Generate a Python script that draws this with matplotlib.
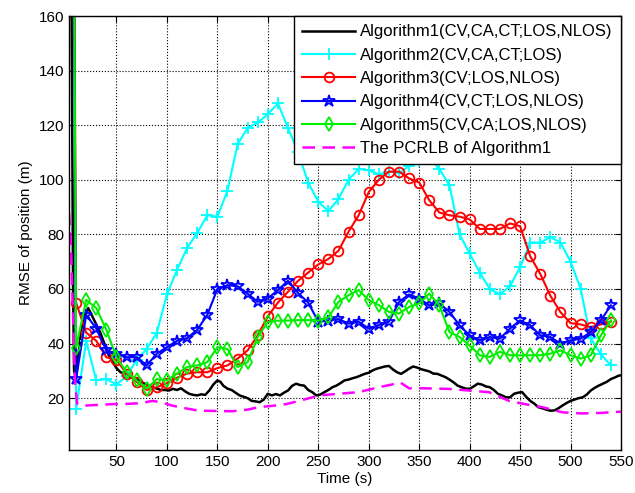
import numpy as np
import matplotlib
matplotlib.use("Agg")
import matplotlib.pyplot as plt

plt.rcParams['font.family'] = ['Liberation Sans', 'DejaVu Sans']

# sample times for the marker curves (first point is the initial transient)
t_mark = [5] + list(range(10, 550, 10))

alg2 = [400, 16, 41, 26.5, 27, 25, 28, 34, 38, 44, 58, 67, 75, 80.5, 87, 86.5, 96, 113, 119, 121, 124,
        128, 119, 110, 99, 92, 88.5, 93, 100, 104, 103.5, 102, 103, 102.5, 105, 107, 108, 104, 98, 80,
        73, 66, 60, 58, 61, 68, 77, 77, 79, 77, 70, 60, 42, 36, 32]
alg3 = [400, 55, 44, 41, 35, 34, 29, 26, 23, 24, 25.5, 27.5, 29, 29.5, 29.5, 31, 32, 34.5, 37.5, 43, 50,
        55, 59, 63, 66, 69, 71, 74, 81, 87, 95.5, 100, 103, 103, 100.5, 99, 92.5, 88, 87, 86.5,
        85.5, 82, 82, 82, 84, 83, 72, 65.5, 57.5, 51.5, 47.5, 47, 46, 47, 48]
alg4 = [400, 27, 50.5, 45.5, 37.5, 36.3, 35, 35, 32, 36.3, 38.7, 41, 42, 45, 50.5, 60, 61.4, 61, 58.3, 55.3, 56.5,
        59.6, 63, 58.5, 55, 48, 48.4, 49, 47.3, 48, 45.5, 46.8, 48, 55.3, 58, 56.5, 54, 54.7, 51.6, 46.7,
        43, 41.2, 42.4, 41.8, 45.5, 48.5, 46.7, 43, 42.4, 40, 41.2, 41.8, 44.2, 48.5, 54]
alg5 = [400, 38.5, 56, 53, 45, 35, 29.5, 26.5, 23.5, 27, 26.5, 29, 31.4, 32, 33.2, 38.7, 38, 31.4, 33.2, 42.4, 47.9,
        48.4, 48.4, 48.6, 48.6, 48.4, 49.6, 55.3, 57.7, 59.6, 55.9, 54.1, 51.6, 51, 53.4, 54.7, 58.3, 54, 44.2, 42.4,
        39.3, 35.7, 35.1, 37, 35.7, 35.7, 35.7, 35.7, 36.3, 37.5, 35.7, 34.5, 35.7, 43, 48.5]

t_alg1 = [3, 5, 6, 7, 8, 10, 12, 15, 18, 22, 26, 30, 34, 38, 42, 46, 50, 54, 58, 62, 66, 70, 74, 78, 82, 86, 90,
          94, 98, 102, 106, 110, 114, 118, 122, 126, 130, 134, 138, 142, 146, 150, 153, 156, 160, 164, 168,
          172, 176, 180, 184, 188, 192, 196, 200, 204, 208, 212, 216, 220, 224, 228, 232, 236, 240, 244,
          248, 252, 256, 260, 264, 268, 272, 276, 280, 284, 288, 292, 296, 300, 304, 308, 312, 316, 320,
          324, 328, 332, 336, 340, 344, 348, 352, 356, 360, 364, 368, 372, 376, 380, 384, 388, 392, 396,
          400, 404, 408, 412, 416, 420, 424, 428, 432, 436, 440, 444, 448, 452, 456, 460, 464, 468, 472,
          476, 480, 484, 488, 492, 496, 500, 504, 508, 512, 516, 520, 524, 528, 532, 536, 540, 544, 548, 550]
alg1 = [300, 200, 130, 60, 30, 27, 35, 45, 50, 53, 50, 47, 44, 40, 36, 33.5, 31, 29.5, 29, 28, 27.5, 27, 26,
        25.3, 24.5, 24, 23.5, 23, 23, 22.8, 23.4, 23, 23.6, 22.5, 21.6, 21.2, 21, 21.4, 21.2, 22.8, 25, 26.5,
        26, 24.5, 23.5, 23, 22, 21, 20.5, 20, 19, 18.8, 18.5, 19.5, 21.6, 21, 21.5, 21, 22, 22.8, 24.5, 25.3,
        24.8, 24.6, 23, 22.2, 21, 21.3, 22.2, 23, 24, 24.6, 25.5, 26.5, 26.8, 27.3, 27.7, 28.3, 28.9, 29.3,
        30.2, 30.8, 31.2, 31.6, 31.8, 30.5, 29.5, 28.9, 29.8, 30.8, 31.6, 31.2, 30.6, 30.2, 29.8, 29, 28.9,
        28.3, 27.7, 26.8, 25.8, 24.6, 24, 23.5, 23.4, 24.3, 25.3, 25, 24.3, 24, 23, 21.6, 21, 20.3, 20.3,
        21.6, 22, 22.2, 20.5, 19, 18, 16.7, 16.3, 15.8, 15.4, 15.5, 16.3, 17.3, 18.2, 19, 19.5, 20, 20.3,
        21.3, 22.8, 23.8, 24.6, 25.3, 26, 27, 27.6, 28.3, 28.3]

t_pcrlb = [3, 5, 7, 9, 11, 15, 20, 30, 46, 60, 72, 80, 86, 95, 105, 118, 132, 150, 165, 180, 191, 205, 218,
           231, 244, 251, 270, 290, 310, 323, 331, 340, 356, 379, 399, 419, 439, 455, 472, 492, 511, 531,
           547, 550]
pcrlb = [88, 75, 50, 25, 18, 17.3, 17.3, 17.5, 17.8, 17.9, 18.1, 18.6, 19, 18.4, 17.3, 16.3, 15.4, 15.3,
         15.2, 15.8, 16.7, 17.2, 17.8, 19, 20.3, 21, 21.6, 22.2, 24, 25, 25.8, 23.6, 23.6, 23.4, 22.8, 22.2,
         19, 17.8, 16.7, 14.8, 14.4, 14.6, 15, 15]

labels = ["Algorithm1(CV,CA,CT;LOS,NLOS)", "Algorithm2(CV,CA,CT;LOS)", "Algorithm3(CV;LOS,NLOS)",
          "Algorithm4(CV,CT;LOS,NLOS)", "Algorithm5(CV,CA;LOS,NLOS)", "The PCRLB of Algorithm1"]

fig = plt.figure(figsize=(6.35, 4.93), dpi=100)
ax = fig.add_axes([0.1087, 0.0872, 0.8693, 0.8803])

ax.plot(t_alg1, alg1, '-', c='black', lw=1.8, label=labels[0])
ax.plot(t_mark, alg2, '-', c='cyan', lw=1.5, marker='+', ms=8, mew=1.3,
        markevery=slice(1, None), label=labels[1])
ax.plot(t_mark, alg3, '-', c='red', lw=1.5, marker='o', ms=7, mfc='none', mew=1.3,
        markevery=slice(1, None), label=labels[2])
ax.plot(t_mark, alg4, '-', c='blue', lw=1.5, marker='*', ms=9, mfc='none', mew=1.3,
        markevery=slice(1, None), label=labels[3])
ax.plot(t_mark, alg5, '-', c='#00ee00', lw=1.5, marker='d', ms=7, mfc='none', mew=1.3,
        markevery=slice(1, None), label=labels[4])
ax.plot(t_pcrlb, pcrlb, '--', c='magenta', lw=1.8, dashes=(5, 3), label=labels[5])

ax.set_xlim(3, 550)
ax.set_ylim(1, 160)
ax.set_xticks(range(50, 551, 50))
ax.set_yticks(range(20, 161, 20))
ax.tick_params(direction='in', top=True, right=True, labelsize=11, length=4)
ax.grid(True, ls=':', c='black', lw=0.8)
for s in ax.spines.values():
    s.set_linewidth(1.0)

ax.set_xlabel("Time (s)", fontsize=11, labelpad=2)
ax.set_ylabel("RMSE of position (m)", fontsize=11, labelpad=4)

leg = ax.legend(loc='upper right', fontsize=12, handlelength=3.2, borderaxespad=0,
                fancybox=False, framealpha=1, edgecolor='black', labelspacing=0.5,
                handletextpad=0.3, borderpad=0.5)
leg.get_frame().set_linewidth(1.0)

fig.savefig("out.png", dpi=100)
